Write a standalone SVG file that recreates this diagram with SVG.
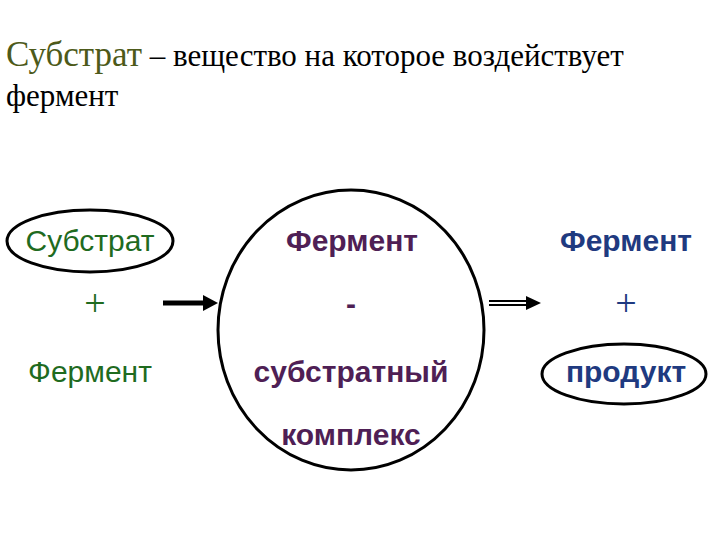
<svg xmlns="http://www.w3.org/2000/svg" width="720" height="540" viewBox="0 0 720 540">
<style>
text{font-family:"Liberation Sans",sans-serif}
text.s{font-family:"Liberation Serif",serif}
.b{font-weight:bold;font-size:30px;text-anchor:middle}
.n{font-size:30px;text-anchor:middle}
.pl{font-family:"Liberation Serif",serif;font-size:38px;text-anchor:middle}
.g{fill:#1f6b1f}.p{fill:#4f1f55}.u{fill:#1f3a80}
ellipse{fill:none;stroke:#000;stroke-width:3}
</style>
<rect width="720" height="540" fill="#fff"/>
<text class="s" x="6" y="66" font-size="35"><tspan fill="#4d5a1a">Субстрат</tspan><tspan font-size="31"> – вещество на которое воздействует</tspan></text>
<text class="s" x="6" y="106" font-size="31">фермент</text>
<g id="n1"><ellipse cx="90" cy="241" rx="83" ry="31"/>
<text class="n g" x="90" y="251">Субстрат</text>
<text class="pl g" x="95" y="316">+</text>
<text class="n g" x="90" y="382">Фермент</text></g>
<g id="n2"><ellipse cx="351" cy="330" rx="133" ry="140"/>
<text class="b p" x="352" y="251">Фермент</text>
<text class="b p" x="351" y="314">-</text>
<text class="b p" x="351" y="382">субстратный</text>
<text class="b p" x="351" y="445">комплекс</text></g>
<g id="n3"><ellipse cx="624" cy="374" rx="82" ry="30"/>
<text class="b u" x="626" y="251">Фермент</text>
<text class="pl u" x="626" y="316">+</text>
<text class="b u" x="626" y="382">продукт</text></g>
<g id="connectors">
<line x1="163" y1="303" x2="206" y2="303" stroke="#000" stroke-width="5"/>
<path d="M203,295L218,303L203,311z"/>
<line x1="489" y1="301" x2="530" y2="301" stroke="#000" stroke-width="2"/>
<line x1="489" y1="305" x2="530" y2="305" stroke="#000" stroke-width="2"/>
<path d="M526,296L541,303L526,310z"/>
</g>
</svg>
